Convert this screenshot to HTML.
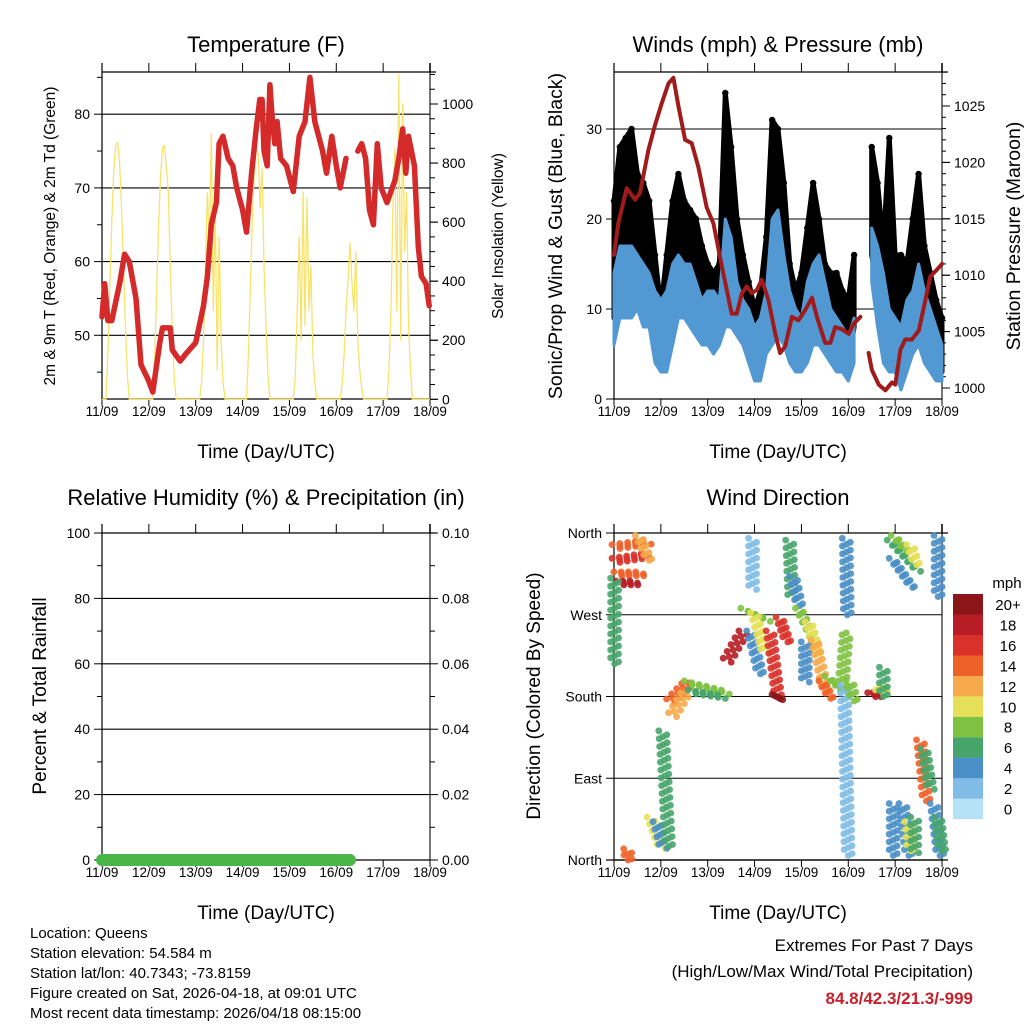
<!DOCTYPE html>
<html><head><meta charset="utf-8"><style>
html,body{margin:0;padding:0;background:#fff;}
svg{display:block;font-family:"Liberation Sans",sans-serif;}
</style></head><body>
<svg id="chart" width="1024" height="1024" viewBox="0 0 1024 1024" xmlns="http://www.w3.org/2000/svg">
<rect width="1024" height="1024" fill="#fff"/>
<g id="g"></g>
<text x="266" y="52" font-size="22" text-anchor="middle">Temperature (F)</text>
<text x="778" y="52" font-size="22" text-anchor="middle">Winds (mph) &amp; Pressure (mb)</text>
<text x="266" y="505" font-size="22" text-anchor="middle">Relative Humidity (%) &amp; Precipitation (in)</text>
<text x="778" y="505" font-size="22" text-anchor="middle">Wind Direction</text>
<text transform="translate(55,236) rotate(-90)" font-size="15.5" text-anchor="middle">2m &amp; 9m T (Red, Orange) &amp; 2m Td (Green)</text>
<text transform="translate(503,236) rotate(-90)" font-size="15.5" text-anchor="middle">Solar Insolation (Yellow)</text>
<text transform="translate(562,236) rotate(-90)" font-size="19.5" text-anchor="middle">Sonic/Prop Wind &amp; Gust (Blue, Black)</text>
<text transform="translate(1020,236) rotate(-90)" font-size="19.5" text-anchor="middle">Station Pressure (Maroon)</text>
<text transform="translate(46,696) rotate(-90)" font-size="19" text-anchor="middle">Percent &amp; Total Rainfall</text>
<text transform="translate(540,696) rotate(-90)" font-size="19" text-anchor="middle">Direction (Colored By Speed)</text>
<text x="266" y="458" font-size="19" text-anchor="middle">Time (Day/UTC)</text>
<text x="778" y="458" font-size="19" text-anchor="middle">Time (Day/UTC)</text>
<text x="266" y="919" font-size="19" text-anchor="middle">Time (Day/UTC)</text>
<text x="778" y="919" font-size="19" text-anchor="middle">Time (Day/UTC)</text>
<g font-size="15">
<text x="30" y="938">Location: Queens</text>
<text x="30" y="958">Station elevation: 54.584 m</text>
<text x="30" y="978">Station lat/lon: 40.7343; -73.8159</text>
<text x="30" y="998">Figure created on Sat, 2026-04-18, at 09:01 UTC</text>
<text x="30" y="1018">Most recent data timestamp: 2026/04/18 08:15:00</text>
</g>
<text x="973" y="951" font-size="17" text-anchor="end">Extremes For Past 7 Days</text>
<text x="973" y="977" font-size="17" text-anchor="end">(High/Low/Max Wind/Total Precipitation)</text>
<text x="973" y="1004" font-size="17" font-weight="bold" fill="#c8202a" text-anchor="end">84.8/42.3/21.3/-999</text>
<text x="1007" y="588" font-size="15" text-anchor="middle">mph</text>
</svg>
<script>
const dayLabels=["11/09","12/09","13/09","14/09","15/09","16/09","17/09","18/09"];
const tempTicks=[50,60,70,80];
const solarTicks=[0,200,400,600,800,1000];
const windTicks=[0,10,20,30];
const presTicks=[1000,1005,1010,1015,1020,1025];
const rhTicks=[0,20,40,60,80,100];
const rainTicks=["0.00","0.02","0.04","0.06","0.08","0.10"];
const dirTicks=["North","East","South","West","North"];
const speedBins=["0","2","4","6","8","10","12","14","16","18","20+"];
const binColors=["#b5e2f7","#80bce5","#4a8fc8","#47a56c","#7fc243","#e6e058","#f6aa4b","#ee6229","#d9322a","#b81d25","#8b1619"];

const tempTimes=[0,1.4,3,5,9,11.6,14,17.4,20,23.6,26,29.6,31,35,36,40,43,48,52,54,56,58.6,60,62,64.6,67,69,72,74,76.6,79,80.8,82,83,84.6,86,87,88.5,89.7,91.5,94.5,98,101,104,106.5,109,111,113,115,117.7,120,122,125,null,131,133,135,137,139,141,143,146,150,152,154,155.6,157,160,162,163.6,166,167.6];
const tempValues=[52.5,57,52,52,57,61,60,55,46,44,42.3,49,51,51,48,46.5,47.5,49,54,58,65,68,76,77,74,73,70,67,64,72,78,82,82,75,73,84,80,76,79,74,73,69.5,77,79,85,79,77,75,72,77,73,70,74,null,75,76,74,67,65,76,70,68,71,74,78,72,77,73,62,58,57,54];

const solarDays=[
[0,150,380,600,770,860,870,800,650,450,250,80,0,0],
[0,140,370,590,760,850,860,780,700,440,240,70,0,0],
[0,60,200,450,700,520,900,300,650,100,550,200,60,0],
[0,150,380,600,780,850,830,650,780,450,250,80,0,0],
[0,80,300,550,200,700,250,680,300,450,150,60,0,0],
[0,50,150,300,400,530,400,300,500,200,100,40,0,0],
[0,100,300,650,850,300,1100,200,1000,500,700,250,100,0]];

const windTimes=[0,3,6,9,12,15,18,21,24,27,30,33,36,39,42,45,48,51,54,57,60,63,66,69,72,75,78,81,84,87,90,93,96,99,102,105,108,111,114,117,120,123,126,129,132,135,138,141,144,147,150,153,156,159,162,165,168];
const windLow=[6,9,9,9,10,8,8,4,3,3,6,9,9,8,7,6,6,5,6,8,8,7,6,4,2,2,5,6,7,6,4,3,3,4,6,6,5,4,3,3,2,4,null,null,13,8,4,3,3,1,3,5,6,4,3,2,2];
const windHigh=[14,17,17,17,16,15,14,12,11,12,15,16,15,15,13,11,12,12,11,20,18,13,11,10,8,9,12,20,21,16,12,10,9,13,15,16,13,10,9,8,7,9,null,null,19,17,14,10,9,8,11,12,15,12,10,8,6];
const gustLow=[9,14,16,17,15,12,9,6,6,9,13,13,13,11,9,8,7,8,10,14,14,11,8,5,4,5,10,13,14,11,7,5,6,10,13,9,8,7,7,6,4,8,null,null,16,12,9,8,9,6,7,9,12,9,6,5,3];
const gustHigh=[22,28,29,30,25,24,22,16,10,16,22,25,22,21,20,17,15,14,15,34,28,20,16,13,10,12,18,31,30,24,15,12,14,19,24,20,15,14,14,12,11,16,null,null,28,24,17,29,16,16,15,20,25,17,14,11,9];

const presTimes=[0,2.2,6.5,10.8,13.3,17.6,21,24.4,27.9,30.4,33,36.4,39.8,43.2,47.5,50.9,55.2,60.3,62.9,65.5,68,70.6,73.2,75.7,79.1,82.6,85.1,87.7,91.1,94.5,97.9,101.4,103.9,108.2,110.8,113.3,116.8,120.2,122.7,126.2,null,130.4,132.1,135.6,139,142.4,144.1,146.7,149.2,152.6,156.1,159.5,162,165.5,168];
const presValues=[1011.8,1014.6,1017.7,1016.7,1017.3,1021.1,1023.3,1025.2,1027,1027.5,1025,1022,1021.7,1019.6,1016,1014.6,1010.8,1006.6,1006.6,1008.4,1009,1008.4,1008.7,1009.6,1007.8,1004.8,1003.1,1003.7,1006.3,1006,1006.9,1008,1006.3,1004,1004,1005.4,1005.2,1004.8,1005.7,1006.3,null,1003.1,1001.6,1000.3,999.8,1000.5,1000.3,1003.4,1004.3,1004.3,1005.1,1007.8,1009.9,1010.5,1011];

const precipEnd=127;

const dirT0=[1,1,2,3,13,0.3,7,19,22,25,29,30,38,40,58,67,70,72,71,80,83,85,90,92,95,100,98,103,107,110,117,119,118,121,132,136,138,142,143,144,152,143,148,151,154,157,159,166,164,166];
const dirT1=[17,16,15,12,18,0.3,7.2,24,25,28,38,37,57,55,66,78,75,77,71,84,85,89,91,95,103,104,98,108,111,118,119,119.5,120,123,136,139,138,155,153,150,155,143,151,152,154,160,162,166,167,168];
const dirD0=[345,330,315,305,355,308,10,45,40,140,175,160,195,185,220,275,250,270,352,250,180,265,350,310,275,260,238,240,195,200,195,352,190,195,182,185,210,350,330,355,345,60,60,40,45,130,120,355,60,45];
const dirD1=[350,335,315,305,330,216,0,15,15,15,195,185,185,180,250,265,205,230,300,180,178,240,290,280,240,230,198,190,178,185,250,270,5,175,182,190,180,320,300,340,325,5,5,10,10,65,80,290,5,10];
const dirSpeed=[15,17,14,18,12,7,14,10,4,7,15,12,9,6,18,9,5,11,2,17,20,16,7,4,8,11,4,13,15,8,8,4,3,9,19,10,7,6,5,9,11,4,4,10,7,14,6,4,4,7];

const NS="http://www.w3.org/2000/svg";
const G=document.getElementById('g');
function mk(tag,attrs,parent){const e=document.createElementNS(NS,tag);for(const k in attrs)e.setAttribute(k,attrs[k]);(parent||G).appendChild(e);return e;}
function txt(x,y,s,size,anchor,parent){const e=mk('text',{x:x,y:y,'font-size':size,'text-anchor':anchor},parent);e.textContent=s;return e;}

const L=102,R=430,L2=614,R2=942;
const xL=h=>L+h*(R-L)/168, xR=h=>L2+h*(R2-L2)/168;
const yT=t=>335.3-(t-50)*7.37;
const yS=v=>399.3-v*0.2953;
const yW=w=>399-w*9;
const yP=p=>388-(p-1000)*11.28;
const yH=v=>860-v*3.27;
const yD=d=>860-d*327/360;
const colorOf=s=>binColors[Math.min(10,Math.max(0,Math.floor(s/2)))];

function frame(x0,x1,yTop,yBot,name){
  const g=mk('g',{});
  
  
  mk('line',{x1:x0,y1:yTop-9,x2:x0,y2:yBot,stroke:'#000','stroke-width':1.2},g);
  mk('line',{x1:x1,y1:yTop-9,x2:x1,y2:yBot,stroke:'#777','stroke-width':2},g);
  mk('line',{x1:x0,y1:yBot,x2:x1,y2:yBot,stroke:'#000','stroke-width':1.2},g);
  mk('line',{x1:x0,y1:yTop,x2:x1+6,y2:yTop,stroke:'#000','stroke-width':1.2},g);
  for(let i=0;i<8;i++){
    const x=x0+i*(x1-x0)/7;
    mk('line',{x1:x,y1:yTop-9,x2:x,y2:yTop,stroke:'#000'},g);
    mk('line',{x1:x,y1:yBot,x2:x,y2:yBot+7,stroke:'#000'},g);
    const t=txt(x,yBot+17,dayLabels[i],13.5,'middle',g);
    
    
  }
  return g;
}
function leftTick(x,y,label,g,grid,x1){
  mk('line',{x1:x-8,y1:y,x2:x,y2:y,stroke:'#000'},g);
  if(grid) mk('line',{x1:x,y1:y,x2:x1,y2:y,stroke:'#000','stroke-width':1.1},g);
  const t=txt(x-12,y+5,label,14,'end',g);
  
  
}
function rightTick(x,y,label,g){
  mk('line',{x1:x,y1:y,x2:x+8,y2:y,stroke:'#000'},g);
  const t=txt(x+12,y+5,label,14,'start',g);
  
  
}
function pathFrom(ts,vs,fx,fy){let d='',pen=false;for(let i=0;i<ts.length;i++){if(ts[i]===null||vs[i]===null){pen=false;continue;}d+=(pen?'L':'M')+fx(ts[i]).toFixed(1)+','+fy(vs[i]).toFixed(1);pen=true;}return d;}
function bandFrom(ts,lo,hi,fx,fy){let segs=[],cur=[];for(let i=0;i<ts.length;i++){if(lo[i]===null){if(cur.length)segs.push(cur);cur=[];}else cur.push(i);}if(cur.length)segs.push(cur);
  return segs.map(s=>{let d='M'+s.map(i=>fx(ts[i]).toFixed(1)+','+fy(hi[i]).toFixed(1)).join('L');d+='L'+s.slice().reverse().map(i=>fx(ts[i]).toFixed(1)+','+fy(lo[i]).toFixed(1)).join('L')+'Z';return d;}).join('');}

// Panel 1
const p1=frame(L,R,72,399,'temperature');
for(let t=45;t<=85;t+=5){ if(t%10) mk('line',{x1:L-5,y1:yT(t),x2:L,y2:yT(t),stroke:'#000'},p1); }
tempTicks.forEach(t=>leftTick(L,yT(t),String(t),p1,true,R));
for(let v=0;v<=1100;v+=50){ mk('line',{x1:R,y1:yS(v),x2:R+(v%200?5:8),y2:yS(v),stroke:'#000'},p1); }
solarTicks.forEach(v=>rightTick(R,yS(v),String(v),p1));
let solarT=[],solarV=[];
solarDays.forEach((day,d)=>{solarT.push(d*24);solarV.push(0);day.forEach((v,k)=>{solarT.push(d*24+2+k);solarV.push(v);});});
solarT.push(168);solarV.push(0);
const solarLine=mk('path',{d:pathFrom(solarT,solarV,xL,yS),fill:'none',stroke:'#f8e36a','stroke-width':1.3,'stroke-linejoin':'round'});


const tempLine=mk('path',{d:pathFrom(tempTimes,tempValues,xL,yT),fill:'none',stroke:'#d42a2a','stroke-width':5.5,'stroke-linejoin':'round','stroke-linecap':'round'});



// Panel 2
const p2=frame(L2,R2,72,399,'winds');
windTicks.forEach(w=>leftTick(L2,yW(w),String(w),p2,w>0,R2));
for(let p=1000;p<=1028;p++){ mk('line',{x1:R2,y1:yP(p),x2:R2+(p%5?4:8),y2:yP(p),stroke:'#000'},p2); }
presTicks.forEach(p=>rightTick(R2,yP(p),String(p),p2));
const gustBand=mk('path',{d:bandFrom(windTimes,gustLow,gustHigh,xR,yW),fill:'#000',stroke:'#000','stroke-width':5,'stroke-linejoin':'round'});


for(let i=0;i<windTimes.length;i++){ if(gustHigh[i]===null) continue;
  const dot=mk('circle',{cx:xR(windTimes[i]),cy:yW(gustHigh[i]),r:3.2,fill:'#000'});
  
  
}
const windBand=mk('path',{d:bandFrom(windTimes,windLow,windHigh,xR,yW),fill:'#5299d3',stroke:'#5299d3','stroke-width':3,'stroke-linejoin':'round'});


const presLine=mk('path',{d:pathFrom(presTimes,presValues,xR,yP),fill:'none',stroke:'#a01b1b','stroke-width':4,'stroke-linejoin':'round','stroke-linecap':'round'});



// Panel 3
const p3=frame(L,R,533,860,'humidity');
rhTicks.forEach((v,i)=>{leftTick(L,yH(v),String(v),p3,v>0&&v<100,R);rightTick(R,yH(v),rainTicks[i],p3);});
for(let v=10;v<100;v+=20){ mk('line',{x1:L-5,y1:yH(v),x2:L,y2:yH(v),stroke:'#000'},p3); mk('line',{x1:R,y1:yH(v),x2:R+5,y2:yH(v),stroke:'#000'},p3); }
const precip=mk('line',{x1:xL(0),y1:860,x2:xL(precipEnd),y2:860,stroke:'#4bb648','stroke-width':12,'stroke-linecap':'round'});



// Panel 4
const p4=frame(L2,R2,533,860,'wind-direction');
dirTicks.forEach((s,i)=>leftTick(L2,yD(i*90),s,p4,i>0&&i<4,R2));
mk('line',{x1:L2-8,y1:860,x2:R2+6,y2:860,stroke:'#000','stroke-width':1.2},p4);
const offs=[-4,0,4];
for(let k=0;k<dirT0.length;k++){
  const x0=xR(dirT0[k]),x1=xR(dirT1[k]),y0=yD(dirD0[k]),y1=yD(dirD1[k]);
  const n=Math.max(3,Math.ceil(Math.hypot(x1-x0,y1-y0)/4));
  offs.forEach((o,oi)=>{
    for(let j=0;j<=n;j++){
      if((j+oi)%2) continue;
      const f=j/n;
      const dot=mk('circle',{cx:(x0+(x1-x0)*f+o).toFixed(1),cy:(y0+(y1-y0)*f+(oi-1)*2).toFixed(1),r:3.4,fill:colorOf(dirSpeed[k]),'fill-opacity':0.9});
      
      
    }
  });
}
for(let i=0;i<11;i++){
  const y=594+(10-i)*20.45;
  const box=mk('rect',{x:953,y:y,width:30,height:20.6,fill:binColors[i]});
  
  
  const lab=txt(1008,y+16,speedBins[i],15,'middle');
  
  
}
</script>
</body></html>
